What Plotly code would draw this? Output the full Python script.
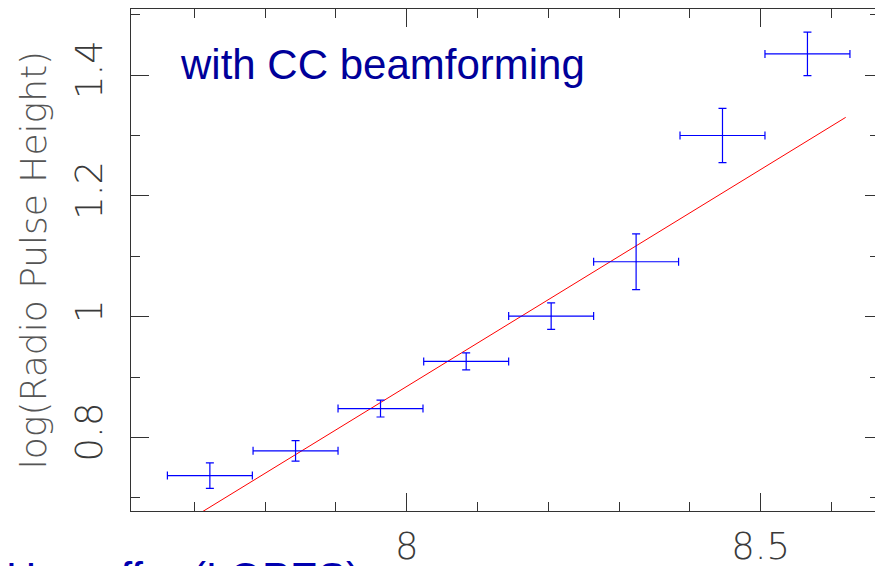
import plotly.graph_objects as go

# Binned measurements: log(energy) bin centres, mean log pulse height and errors
log_energy = [7.722, 7.843, 7.963, 8.084, 8.204, 8.324, 8.446, 8.566]
log_pulse = [0.737, 0.778, 0.848, 0.926, 1.001, 1.091, 1.300, 1.435]
pulse_err = [0.021, 0.017, 0.014, 0.014, 0.022, 0.046, 0.045, 0.036]
energy_err = [0.060, 0.060, 0.060, 0.060, 0.060, 0.060, 0.060, 0.060]

# Straight-line fit, given by its two end points
fit_x = [7.70, 8.62]
fit_y = [0.669, 1.330]

x_range = [7.6106, 8.6614]
y_range = [0.6784, 1.5094]

tick_font = dict(family="DejaVu Sans", size=37, color="#3a3a3a", weight=200)
title_font = dict(family="DejaVu Sans", size=36, color="#555555", weight=200)
axis_col = "#333333"

fig = go.Figure()

fig.add_trace(go.Scatter(
    x=fit_x, y=fit_y, mode="lines",
    line=dict(color="#ff0000", width=1),
    hoverinfo="skip", showlegend=False,
))

fig.add_trace(go.Scatter(
    x=log_energy, y=log_pulse, mode="markers",
    marker=dict(size=1, color="#0000ff"),
    error_x=dict(type="data", array=energy_err, color="#0000ff", thickness=1.2, width=4),
    error_y=dict(type="data", array=pulse_err, color="#0000ff", thickness=1.2, width=4),
    showlegend=False,
))

# dummy trace to carry the right-hand tick marks
fig.add_trace(go.Scatter(x=[None], y=[None], yaxis="y2", showlegend=False))

fig.update_layout(
    width=875, height=566,
    margin=dict(l=131, r=0, t=9, b=55, autoexpand=False),
    paper_bgcolor="white", plot_bgcolor="white",
    xaxis=dict(
        range=x_range, showgrid=False, zeroline=False, automargin=False,
        showline=True, linecolor=axis_col, linewidth=1.2, mirror="ticks",
        ticks="inside", ticklen=18, tickwidth=1.2, tickcolor=axis_col,
        tick0=0, dtick=0.5, tickfont=tick_font, ticklabelstandoff=2,
        minor=dict(dtick=0.1, tick0=0, ticks="inside", ticklen=9,
                   tickwidth=1.2, tickcolor=axis_col, showgrid=False),
    ),
    yaxis=dict(
        range=y_range, showgrid=False, zeroline=False, automargin=False,
        showline=True, linecolor=axis_col, linewidth=1.2,
        ticks="inside", ticklen=18, tickwidth=1.2, tickcolor=axis_col,
        tick0=0, dtick=0.2, tickangle=-90, tickfont=tick_font,
        ticklabelstandoff=13,
        minor=dict(dtick=0.1, tick0=0, ticks="inside", ticklen=9,
                   tickwidth=1.2, tickcolor=axis_col, showgrid=False),
        title=dict(text="log(Radio Pulse Height)", font=title_font, standoff=10),
    ),
    yaxis2=dict(
        range=y_range, overlaying="y", side="right", anchor="x",
        showgrid=False, zeroline=False, showline=False, showticklabels=False,
        automargin=False,
        ticks="inside", ticklen=10, tickwidth=1.2, tickcolor=axis_col,
        tick0=0, dtick=0.2,
        minor=dict(dtick=0.1, tick0=0, ticks="inside", ticklen=5,
                   tickwidth=1.2, tickcolor=axis_col, showgrid=False),
    ),
    annotations=[
        dict(text="with CC beamforming", xref="paper", yref="paper",
             x=(177.5 - 131) / 744, y=1 - (64 - 9) / 502,
             xanchor="left", yanchor="middle", showarrow=False,
             font=dict(family="Liberation Sans", size=42, color="#00009a")),
        dict(text="Horneffer (LOPES)", xref="paper", yref="paper",
             x=(4 - 131) / 744, y=1 - (577 - 9) / 502,
             xanchor="left", yanchor="middle", showarrow=False,
             font=dict(family="Liberation Sans", size=42, color="#0000b0")),
    ],
)

fig.write_html("out.html")
